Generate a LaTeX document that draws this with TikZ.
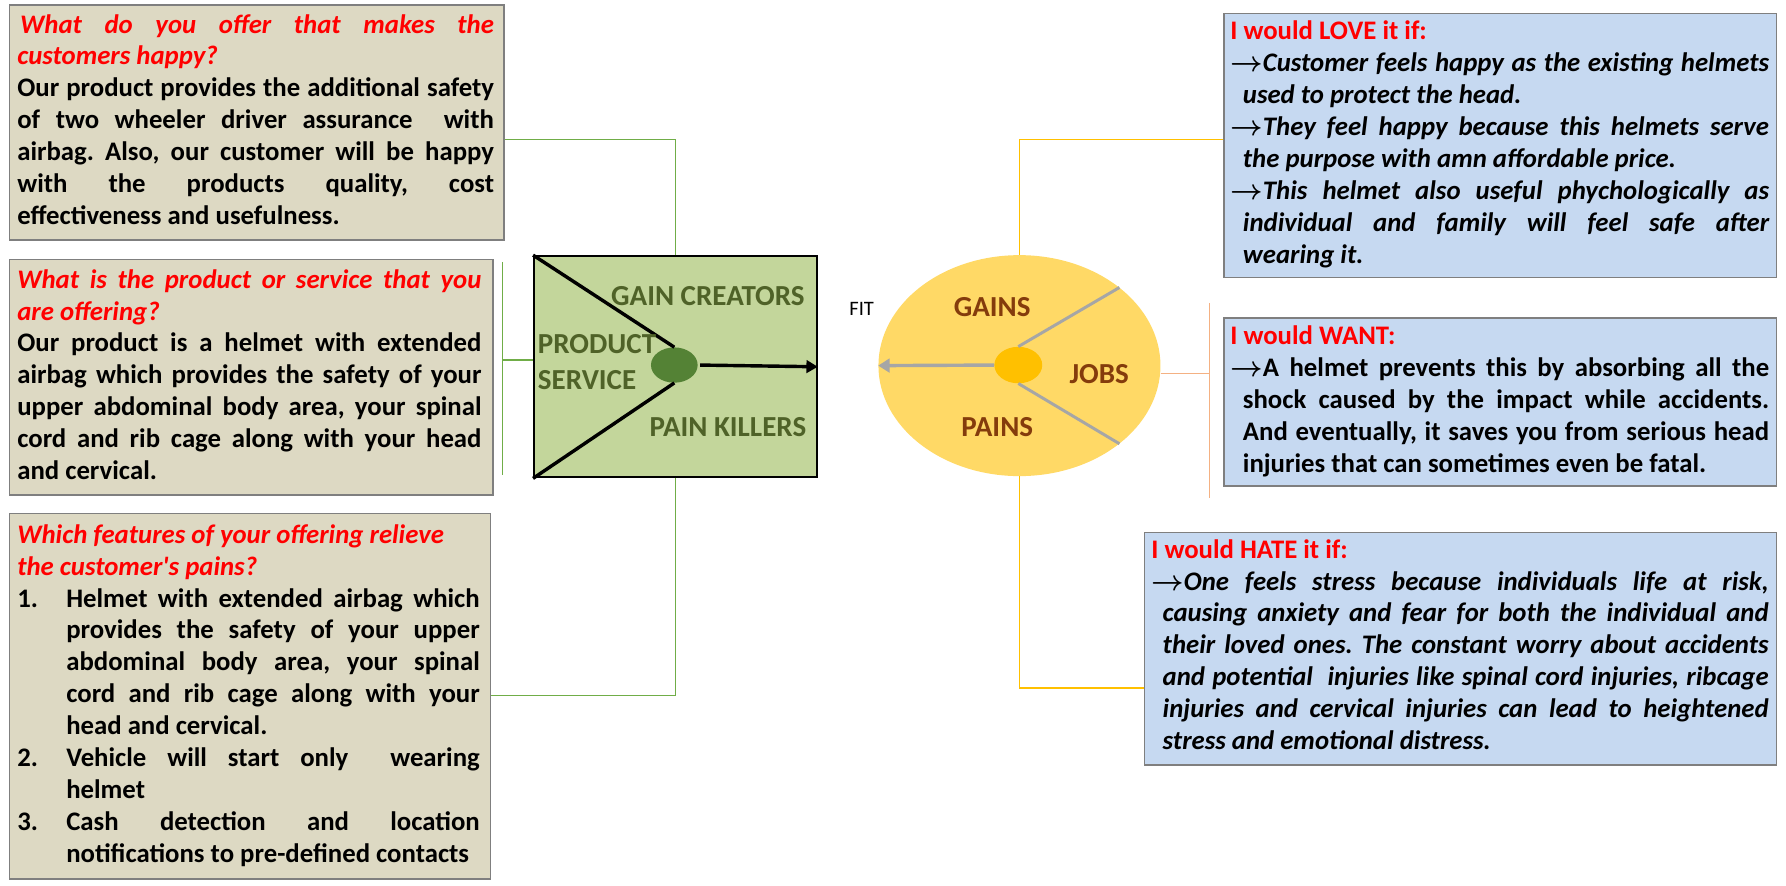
\documentclass[tikz,border=0pt]{standalone}
\usepackage{fontspec}
\setmainfont{Carlito}
\newfontfamily\apfont{Carlito}
\usetikzlibrary{shapes.geometric,arrows.meta}
\definecolor{tanfill}{HTML}{DDD9C3}
\definecolor{bluefill}{HTML}{C6D9F1}
\definecolor{boxedge}{HTML}{7F7F7F}
\definecolor{gboxfill}{HTML}{C3D69B}
\definecolor{gdark}{HTML}{548235}
\definecolor{gtext}{HTML}{4F6228}
\definecolor{yfill}{HTML}{FFD966}
\definecolor{ocol}{HTML}{FFC000}
\definecolor{btext}{HTML}{843C0C}
\definecolor{glines}{HTML}{A6A6A6}
\definecolor{gconn}{HTML}{70AD47}
\definecolor{sconn}{HTML}{F4B183}
\definecolor{hred}{HTML}{FF0000}
\newcommand\redital[1]{{\color{hred}\itshape #1}}
\newcommand\redupright[1]{{\color{hred}#1}}
\newcommand\rarr{{\boldmath$\rightarrow$}}
\tolerance=10000
\hbadness=10000
\hyphenpenalty=10000
\exhyphenpenalty=10000
\frenchspacing
\tikzset{
  panel/.style={draw=boxedge, line width=1.3pt, anchor=north west, inner sep=0pt, rectangle},
  tanbox/.style={panel, fill=tanfill},
  bluebox/.style={panel, fill=bluefill},
  txt/.style={anchor=base west, inner sep=0pt, align=justify, font=\fontsize{23.5}{28}\selectfont\bfseries\frenchspacing},
  lbl/.style={inner sep=0pt, font=\fontsize{25.5}{28}\selectfont\bfseries},
  glbl/.style={lbl, text=gtext},
  blbl/.style={lbl, text=btext},
  gconnline/.style={draw=gconn, line width=1.4pt},
  yconnline/.style={draw=ocol, line width=1.4pt},
  sconnline/.style={draw=sconn, line width=1.2pt},
  blackline/.style={draw=black, line width=3pt},
  grayline/.style={draw=glines, line width=2.6pt},
}
\begin{document}
\begin{tikzpicture}[x=1pt,y=-1pt]
\useasboundingbox (0,0) rectangle (1568,777.8);

% ---------- left boxes ----------
\node[tanbox, minimum width=434.4pt, minimum height=206.2pt] (box1) at (7.6,3.8) {};
\node[tanbox, minimum width=424.4pt, minimum height=207pt] (box2) at (7.6,227) {};
\node[tanbox, minimum width=422.4pt, minimum height=321pt] (box3) at (7.6,450) {};

\node[txt, text width=418.5pt] (t1) at (15,29) {\redital{\hspace*{2.5pt}What do you offer that makes the\linebreak customers happy?}\par
Our product provides the additional safety\linebreak of two wheeler driver assurance~ with\linebreak airbag. Also, our customer will be happy\linebreak with the products quality, cost\linebreak effectiveness and usefulness.\par};

\node[txt, text width=407.5pt] (t2) at (15,253) {\redital{What is the product or service that you\linebreak are offering?}\par
Our product is a helmet with extended\linebreak airbag which provides the safety of your\linebreak upper abdominal body area, your spinal\linebreak cord and rib cage along with your head\linebreak and cervical.\par};

\node[txt, text width=406pt] (t3) at (15,477) {\redital{Which features of your offering relieve}\par
\redital{the customer{\apfont'}s pains?}\par
\hangindent=43pt\hangafter=1\makebox[43pt][l]{1.}Helmet with extended airbag which\linebreak provides the safety of your upper\linebreak abdominal body area, your spinal\linebreak cord and rib cage along with your\linebreak head and cervical.\par
\hangindent=43pt\hangafter=1\makebox[43pt][l]{2.}Vehicle will start only~ wearing\linebreak helmet\par
\hangindent=43pt\hangafter=1\makebox[43pt][l]{3.}Cash detection and location\linebreak notifications to pre-defined contacts\par};

% ---------- right boxes ----------
\node[bluebox, minimum width=485pt, minimum height=232pt] (love) at (1074,11) {};
\node[bluebox, minimum width=485pt, minimum height=147.3pt] (want) at (1074,278.7) {};
\node[bluebox, minimum width=555pt, minimum height=204pt] (hate) at (1004,467) {};

\node[txt, text width=473pt] (t4) at (1080,35) {\redupright{I would LOVE it if:}\par
\itshape
\hangindent=11pt\hangafter=1\rarr Customer feels happy as the existing helmets\linebreak used to protect the head.\par
\hangindent=11pt\hangafter=1\rarr They feel happy because this helmets serve\linebreak the purpose with amn affordable price.\par
\hangindent=11pt\hangafter=1\rarr This helmet also useful phychologically as\linebreak individual and family will feel safe after\linebreak wearing it.\par};

\node[txt, text width=473pt] (t5) at (1080,302.6) {\redupright{I would WANT:}\par
\hangindent=11pt\hangafter=1\rarr A helmet prevents this by absorbing all the\linebreak shock caused by the impact while accidents.\linebreak And eventually, it saves you from serious head\linebreak injuries that can sometimes even be fatal.\par};

\node[txt, text width=542pt] (t6) at (1010.6,490) {\redupright{I would HATE it if:}\par
\itshape
\hangindent=10pt\hangafter=1\rarr One feels stress because individuals life at risk,\linebreak causing anxiety and fear for both the individual and\linebreak their loved ones. The constant worry about accidents\linebreak and potential~ injuries like spinal cord injuries, ribcage\linebreak injuries and cervical injuries can lead to heightened\linebreak stress and emotional distress.\par};

% ---------- value proposition square ----------
\node[rectangle, draw=black, line width=2pt, fill=gboxfill, inner sep=0pt, anchor=north west,
      minimum width=248pt, minimum height=194pt] (gbox) at (468,224) {};
\node[ellipse, fill=gdark, inner sep=0pt, minimum width=41pt, minimum height=31pt] (gcirc) at (592,320.5) {};
\draw[blackline] (gbox.north west) -- (gcirc.north);
\draw[blackline] (gcirc.south) -- (gbox.south west);
\draw[blackline, -{Triangle[length=10pt,width=11pt]}] ([xshift=2pt]gcirc.east) -- (gbox.east);
\node[glbl] (gc) at (621.5,260) {GAIN CREATORS};
\node[glbl, anchor=west] (prod) at (472,302) {PRODUCT};
\node[glbl, anchor=west] (serv) at (472,333.6) {SERVICE};
\node[glbl] (pk) at (639,375) {PAIN KILLERS};

% ---------- customer profile circle ----------
\node[ellipse, fill=yfill, inner sep=0pt, minimum width=247.6pt, minimum height=194pt] (ell) at (895,321) {};
\node[ellipse, fill=ocol, inner sep=0pt, minimum width=42pt, minimum height=32pt] (ocirc) at (894,320.5) {};
\draw[grayline] (ocirc.north) -- (ell.38.4);
\draw[grayline] (ocirc.south) -- (ell.-38.4);
\draw[grayline, line width=3pt, -{Triangle[length=10pt,width=12pt]}] (ocirc.west) -- (ell.west);
\node[blbl] (gains) at (871,270) {GAINS};
\node[blbl] (jobs) at (965,328) {JOBS};
\node[blbl] (pains) at (875.5,374.6) {PAINS};
\node[inner sep=0pt, font=\fontsize{18}{20}\selectfont] (fit) at (756.5,271) {FIT};

% ---------- connectors ----------
\coordinate (c1) at (0,122.6);
\coordinate (c3) at (0,610.5);
\coordinate (b2top) at (441,230);
\coordinate (b2bot) at (441,417);
\coordinate (b2mid) at (441,316);
\draw[gconnline] (box1.east |- c1) -| (gbox.north);
\draw[gconnline] (b2top) -- (b2bot);
\draw[gconnline] (b2mid) -- (gbox.west |- b2mid);
\draw[gconnline] (box3.east |- c3) -| (gbox.south);

\coordinate (y1) at (0,122.6);
\coordinate (y2) at (0,604);
\coordinate (sa) at (1062,266);
\coordinate (sb) at (1062,437);
\coordinate (sm) at (1062,328);
\draw[yconnline] (ell.north) |- (love.west |- y1);
\draw[yconnline] (ell.south) |- (hate.west |- y2);
\draw[sconnline] (ell.east |- sm) -- (sm);
\draw[sconnline] (sa) -- (sb);
\end{tikzpicture}
\end{document}
